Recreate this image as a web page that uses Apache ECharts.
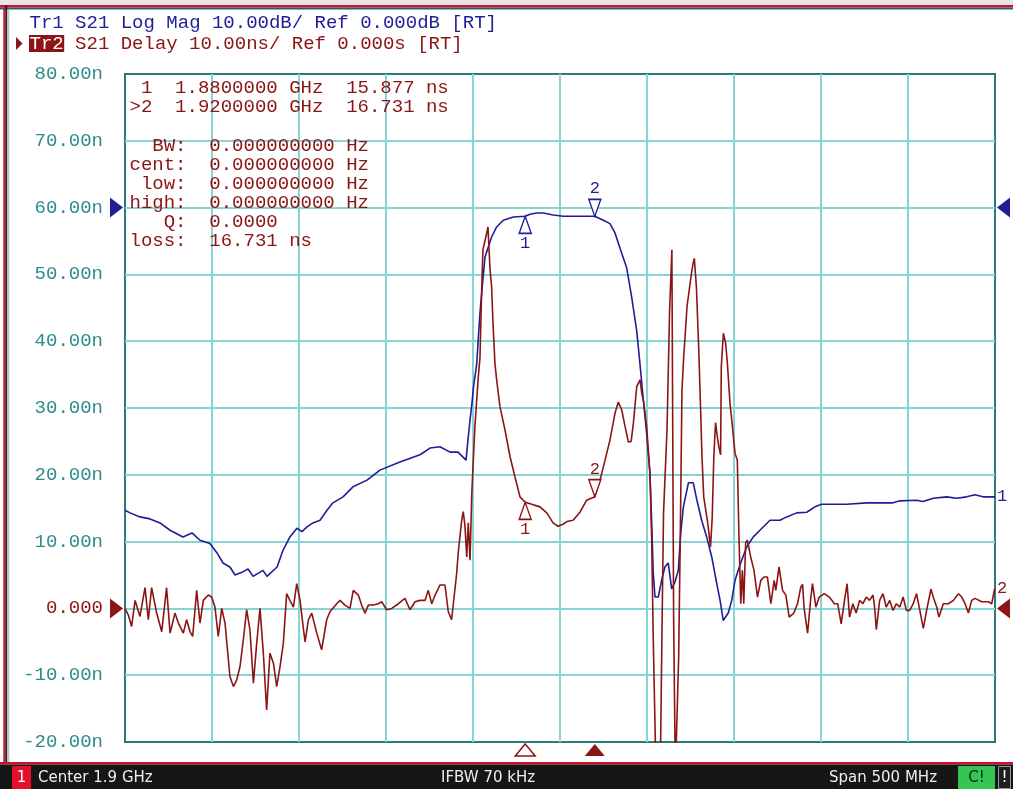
<!DOCTYPE html>
<html><head><meta charset="utf-8">
<style>html,body{margin:0;padding:0;background:#fff;}#c{width:1013px;height:789px;}</style>
<script src="https://cdn.jsdelivr.net/npm/echarts@6/dist/echarts.min.js"></script>
</head><body><div id="c"></div>
<script>
// ---- instrument state ----
const centerMHz = 1900;
const spanMHz = 500;
const ifbwText = '70 kHz';
const trace1Header = 'Tr1 S21 Log Mag 10.00dB/ Ref 0.000dB [RT]';
const trace2Name = 'Tr2';
const trace2Header = ' S21 Delay 10.00ns/ Ref 0.000s [RT]';
const yTickValues = [-20, -10, 0, 10, 20, 30, 40, 50, 60, 70, 80];
const yTickLabels = ['-20.00n','-10.00n','0.000','10.00n','20.00n','30.00n','40.00n','50.00n','60.00n','70.00n','80.00n'];
const markerFreqMHz = [1880, 1920];
const markerDelayNs = [15.877, 16.731];
const markerStats = [['  BW:','0.000000000 Hz'],['cent:','0.000000000 Hz'],[' low:','0.000000000 Hz'],['high:','0.000000000 Hz'],['   Q:','0.0000'],['loss:','16.731 ns']];

// ---- Tr2: S21 group delay (ns) ----
const delayFreqMHz = [
1650,1651.9,1653.8,1655.8,1658.6,1661.5,1663.4,1665.3,1668.2,1671.1,
1673.9,1675.9,1678.7,1680.7,1683.5,1685.4,1687.4,1688.9,1691.2,1693.1,
1695,1697.9,1699.8,1701.7,1703.6,1705.6,1707.5,1710.3,1712.3,1714.2,
1716.1,1718,1719.9,1721.8,1723.8,1725.7,1727.6,1729.5,1731.4,1733.3,
1735.3,1737.2,1739.1,1741,1742.9,1744.8,1746.8,1748.7,1750.6,1752.5,
1753.5,1755.4,1757.3,1760.2,1763,1765.9,1767.8,1771.7,1773.6,1776.4,
1779.3,1781.2,1784.1,1786,1787.9,1789.9,1792.7,1795.6,1797.5,1800.4,
1803.3,1807.1,1810.9,1813.8,1816.7,1819.5,1822.4,1824.3,1826.3,1828.2,
1831,1833.9,1835.8,1837.7,1838.7,1840.6,1841.5,1843.5,1844.4,1845.4,
1846.4,1847.3,1848.3,1849.3,1850,1851.1,1852.9,1854,1855,1855.7,
1857.9,1858.6,1859.8,1860.7,1861.5,1862.6,1863.6,1865.5,1868.4,1871.3,
1874.1,1877,1880,1884.7,1888.5,1892.4,1896,1898.9,1901.7,1904,
1907.5,1911.5,1915.3,1920,1923,1925.9,1928.7,1931.6,1933.5,1935.5,
1937.4,1939.3,1940.9,1942.2,1944.1,1946,1947,1947.9,1949.8,1951.7,
1952.7,1953.6,1955.2,1957.6,1958.6,1959.5,1961.5,1963,1964.3,1965.3,
1966.3,1968.2,1969.1,1970.1,1971.1,1972,1973,1974.3,1975.3,1976.5,
1977.2,1978.4,1979.7,1980.7,1981.6,1982.6,1984.9,1986.5,1987.5,1988.4,
1989.4,1990.4,1991.3,1992.3,1992.7,1993.9,1995.2,1996.2,1997.7,1999.1,
2000.6,2001.9,2002.9,2003.9,2004.8,2005.6,2006.7,2007.7,2009.6,2011.5,
2013.5,2015.4,2017.3,2019.2,2021.2,2023.1,2024,2025.9,2027.9,2029.8,
2031.7,2034.4,2036.5,2038.4,2039.4,2040.3,2042.3,2044.2,2045.1,2047.1,
2049,2051.9,2054.8,2057.7,2059.6,2061.6,2063.5,2065,2066.4,2068.3,
2070.2,2072.2,2074.1,2076,2077.9,2079.9,2080.8,2081.8,2083.7,2085.6,
2087.5,2089.5,2091.4,2093.3,2095.3,2097.2,2099.1,2101,2103,2104.9,
2106.8,2108.8,2110.7,2113.2,2114.5,2116.5,2117.8,2120.3,2123.2,2126.1,
2129,2130.9,2132.8,2134.7,2136.6,2138.5,2142.4,2146.2,2148.1,2149.6,
2150];
const delayNs = [
0.0,-1.0,-2.7,1.2,-1.2,3.1,-1.7,3.1,-0.7,-3.5,
3.1,-3.7,-0.7,-2.2,-3.7,-1.7,-3.5,-4.2,2.7,-2.2,
1.2,2.0,1.7,0.2,-4.2,0.0,-2.2,-10.2,-11.7,-10.7,
-8.7,-4.7,-0.2,-3.2,-11.2,-5.2,0.0,-6.7,-15.2,-6.7,
-8.2,-11.7,-8.7,-5.2,2.2,1.2,0.2,3.7,1.2,-3.0,
-5.0,-1.7,-0.7,-3.7,-6.2,-1.7,-0.5,0.7,1.2,0.5,
0.0,2.7,2.0,0.5,-0.7,0.5,0.5,0.7,1.0,-0.2,
0.0,0.7,1.5,-0.2,1.0,1.2,1.2,2.7,0.7,2.0,
3.5,3.5,-0.5,-1.7,0.7,5.2,8.3,13.2,14.5,12.3,
7.7,12.8,7.2,17.2,21.2,27.2,34.2,37.5,47.7,53.7,
56.2,57.1,50.7,48.1,42.7,36.7,34.2,30.2,26.7,22.7,
19.7,16.7,15.9,15.5,15.2,14.3,12.8,12.3,12.6,13.0,
13.2,14.4,16.2,16.7,19.2,22.2,25.2,29.2,30.9,29.7,
27.2,24.9,25.0,27.8,33.2,34.2,32.2,31.2,27.2,20.2,
10.2,-4.7,-25,-25,-3.7,14.3,26.7,44.7,53.7,-1.3,
-25,-7.3,10.2,32.7,37.7,41.2,45.2,47.7,49.7,51.7,
52.4,48.1,39.1,30.7,22.7,16.7,12.8,9.2,13.7,22.7,
27.8,25.7,24.2,23.0,36.2,41.2,39.7,36.7,30.7,27.2,
23.2,22.2,10.2,0.7,5.7,0.7,9.8,10.2,7.7,5.7,
1.7,4.2,4.7,4.7,0.7,4.2,2.7,6.2,2.7,2.0,
-1.3,-0.7,0.7,3.2,3.6,0.0,-3.7,1.7,3.7,0.2,
1.7,2.2,1.7,0.7,0.7,-2.3,1.2,3.7,-1.3,0.7,
-0.7,1.2,0.7,1.7,1.2,2.0,0.2,-3.2,1.2,2.2,
0.2,1.2,-0.3,0.7,0.2,1.7,-0.3,-0.3,0.7,2.2,
-0.3,-3.0,-0.3,2.9,1.7,0.2,-1.3,0.7,0.7,1.2,
2.2,1.7,0.7,-0.7,1.2,1.5,1.0,1.0,0.7,2.7,
3.0];

// ---- Tr1: S21 log magnitude (dB) ----
const magFreqMHz = [
1650,1652.9,1658.6,1664.4,1670.1,1675.9,1683.3,1688.5,1693.1,1698.8,
1702.9,1706.3,1710.3,1713.2,1717.2,1720.7,1723.6,1729.3,1731.6,1737.4,
1740.8,1744.8,1748.8,1751.7,1754.6,1758,1762.1,1766.1,1769.5,1775.3,
1781,1789.1,1796.5,1808,1819.5,1825.3,1831,1836.8,1841.4,1846,
1847.1,1848.3,1849.4,1850.3,1852.1,1853,1854,1855.3,1856.9,1858.8,
1860.7,1863.6,1867.4,1873.2,1880,1882.8,1886.6,1890.4,1896.1,1901.9,
1920,1924.9,1928.7,1931.6,1934.5,1938.3,1941.2,1944.1,1946,1947.9,
1949.8,1951.7,1952.7,1953.6,1954.6,1956.5,1958.4,1960.3,1962.2,1964.2,
1966.1,1968,1969.4,1970.9,1973.8,1976.6,1978.6,1981.4,1984.3,1987.2,
1990.1,1992,1993.8,1996.7,1998.7,2000.6,2003.4,2007.3,2011.1,2014.9,
2020.7,2026.4,2030.3,2036,2041.8,2046.5,2050.4,2064.8,2076.2,2091.4,
2095.4,2105,2108.6,2114.5,2122.2,2128,2133.7,2138.5,2143.1,2150];
const magDb = [
-45.3,-45.7,-46.3,-46.6,-47.2,-48.3,-49.3,-48.7,-49.8,-50.3,
-51.7,-53.2,-53.8,-55.0,-54.6,-54.1,-55.2,-54.3,-55.2,-53.8,
-51.3,-49.3,-48.0,-48.5,-47.8,-47.2,-46.8,-45.3,-44.2,-43.3,
-41.8,-40.8,-39.3,-38.1,-37.0,-36.0,-35.8,-36.6,-36.6,-37.8,
-34.8,-31.8,-29.3,-26.8,-23.5,-19.8,-15.8,-11.9,-7.4,-5.9,
-4.4,-2.9,-1.9,-1.4,-1.3,-1.0,-0.8,-0.8,-1.1,-1.3,
-1.3,-1.9,-2.4,-3.8,-6.1,-9.0,-13.4,-18.5,-23.5,-28.8,
-33.8,-39.8,-47.2,-54.8,-58.3,-58.3,-55.8,-53.8,-53.2,-57.1,
-56.0,-54.3,-48.7,-44.8,-41.2,-41.2,-43.7,-46.8,-49.3,-52.3,
-56.3,-58.8,-61.8,-60.7,-58.8,-55.8,-53.5,-50.8,-49.3,-48.3,
-46.8,-46.8,-46.3,-45.7,-45.6,-44.8,-44.4,-44.4,-44.2,-44.2,
-43.9,-43.8,-44.0,-43.5,-43.3,-43.5,-43.3,-43.0,-43.3,-43.3];

// ---- styling ----
const MONO = '"Liberation Mono","DejaVu Sans Mono",monospace';
const SANS = '"DejaVu Sans","Liberation Sans",sans-serif';
const BLUE = '#1e1e96', RED = '#8c1414', TEAL = '#2f8c8c', GRIDC = '#86d4d4', BORDER = '#2c7b7b';

const chart = echarts.init(document.getElementById('c'), null, {renderer: 'canvas'});
const fmin = centerMHz - spanMHz / 2, fmax = centerMHz + spanMHz / 2;

function markerPoints(values, color) {
  return {
    symbolKeepAspect: false,
    animation: false,
    silent: true,
    data: markerFreqMHz.map((f, i) => ({
      coord: [f, values[i]],
      symbol: i === 0 ? 'path://M6,0L12,17L0,17Z' : 'path://M0,0L12,0L6,17Z',
      symbolSize: [12, 17],
      symbolOffset: [0, i === 0 ? 8.5 : -8.5],
      itemStyle: {color: '#ffffff', borderColor: color, borderWidth: 1.5},
      label: {show: true, formatter: String(i + 1), position: i === 0 ? 'bottom' : 'top', distance: 1,
              color: color, fontFamily: MONO, fontSize: 17}
    }))
  };
}
const magAtMarkers = markerFreqMHz.map(f => magDb[magFreqMHz.indexOf(f)]);

const option = {
  animation: false,
  backgroundColor: '#ffffff',
  grid: {left: 125, top: 74, width: 870, height: 668, show: true, borderColor: BORDER, borderWidth: 2, backgroundColor: 'rgba(0,0,0,0)'},
  xAxis: {type: 'value', min: fmin, max: fmax, interval: 50,
    axisLine: {show: false}, axisTick: {show: false}, axisLabel: {show: false},
    splitLine: {show: true, showMinLine: false, showMaxLine: false, lineStyle: {color: GRIDC, width: 2}}},
  yAxis: [
    {type: 'value', min: -20, max: 80, interval: 10,
     axisLine: {show: false}, axisTick: {show: false},
     splitLine: {show: true, showMinLine: false, showMaxLine: false, lineStyle: {color: GRIDC, width: 2}},
     axisLabel: {margin: 22, fontFamily: MONO, fontSize: 19, color: TEAL,
       formatter: v => { const t = yTickLabels[yTickValues.indexOf(v)]; return v === 0 ? '{z|' + t + '}' : t; },
       rich: {z: {color: RED, fontFamily: MONO, fontSize: 19}}}},
    {type: 'value', min: -80, max: 20, show: false, splitLine: {show: false}}
  ],
  series: [
    {name: 'Tr1', type: 'line', yAxisIndex: 1, z: 3,
     data: magFreqMHz.map((f, i) => [f, magDb[i]]),
     showSymbol: false, lineStyle: {color: BLUE, width: 1.6}, itemStyle: {color: BLUE},
     endLabel: {show: true, formatter: '1', color: BLUE, fontFamily: MONO, fontSize: 17, distance: 2},
     markPoint: markerPoints(magAtMarkers, BLUE)},
    {name: 'Tr2', type: 'line', yAxisIndex: 0, z: 4,
     data: delayFreqMHz.map((f, i) => [f, delayNs[i]]),
     showSymbol: false, lineStyle: {color: RED, width: 1.6}, itemStyle: {color: RED},
     endLabel: {show: true, formatter: '2', color: RED, fontFamily: MONO, fontSize: 17, distance: 2},
     markPoint: markerPoints(markerDelayNs, RED)}
  ]
};
chart.setOption(option);

// ---- decorations placed through the chart's own scales ----
function txt(text, x, y, fill, font, align) {
  return {type: 'text', silent: true, z: 20, style: {text: text, x: x, y: y, fill: fill, font: font,
    align: align || 'left', textAlign: align || 'left', verticalAlign: 'middle', textVerticalAlign: 'middle'}};
}
function poly(points, fill, stroke) {
  return {type: 'polygon', silent: true, z: 20, shape: {points: points},
    style: {fill: fill, stroke: stroke || null, lineWidth: stroke ? 1.5 : 0}};
}
function rect(x, y, w, h, fill, stroke) {
  return {type: 'rect', silent: true, z: 15, shape: {x: x, y: y, width: w, height: h},
    style: {fill: fill, stroke: stroke || null, lineWidth: stroke ? 1 : 0}};
}
const g = [];
const F19 = '19px ' + MONO;
// window frame
g.push(rect(0, 0, 1013, 5, '#e6e6e6'));
g.push(rect(0, 5, 1013, 2.5, '#d4102c'));
g.push(rect(0, 7.5, 1013, 2, '#1f6565'));
g.push(rect(3.3, 5, 2, 758, '#d4102c'));
g.push(rect(5.3, 5, 2, 758, '#262626'));
g.push(rect(7.3, 9.5, 2, 753, '#b8c4c4'));
// trace headers
const cw = 11.4, hx = 29.5;
g.push(txt(trace1Header, hx, 22.5, BLUE, F19));
g.push(poly([[16, 37], [22.5, 43.5], [16, 50]], RED));
g.push(rect(hx - 0.5, 35, 3 * cw + 1, 17, RED));
g.push(txt(trace2Name, hx, 43.5, '#ffffff', F19));
g.push(txt(trace2Header, hx + 3 * cw, 43.5, RED, F19));
// marker readout
const mx = 129.5;
markerFreqMHz.forEach((f, i) => {
  const pre = (i === 1 ? '>' : ' ') + (i + 1) + '  ';
  const line = pre + (f / 1000).toFixed(7) + ' GHz  ' + markerDelayNs[i].toFixed(3) + ' ns';
  g.push(txt(line, mx, 88 + i * 18.5, RED, F19));
});
markerStats.forEach((s, i) => {
  g.push(txt(s[0] + '  ' + s[1], mx, 146 + i * 18.9, RED, F19));
});
// reference-position arrows
const pBlue = chart.convertToPixel({xAxisIndex: 0, yAxisIndex: 1}, [fmin, 0]);
const pRed = chart.convertToPixel({xAxisIndex: 0, yAxisIndex: 0}, [fmin, 0]);
[[pBlue[1], BLUE], [pRed[1], RED]].forEach(([y, c]) => {
  g.push(poly([[110, y - 10], [123, y], [110, y + 10]], c));
  g.push(poly([[1010, y - 10], [997, y], [1010, y + 10]], c));
});
// stimulus marker arrows under the grid
markerFreqMHz.forEach((f, i) => {
  const x = chart.convertToPixel({xAxisIndex: 0, yAxisIndex: 0}, [f, -20])[0];
  const pts = [[x, 744], [x + 10, 756], [x - 10, 756]];
  g.push(i === 1 ? poly(pts, RED) : poly(pts, '#ffffff', RED));
});
// status bar
const SF = '15px ' + SANS;
g.push(rect(0, 762, 1013, 2.5, '#d0102a'));
g.push(rect(0, 764.5, 1013, 24.5, '#161616'));
g.push(rect(12, 766, 19, 23, '#e3102c'));
g.push(txt('1', 21.5, 778, '#ffffff', SF, 'center'));
g.push(txt('Center ' + (centerMHz / 1000) + ' GHz', 38, 778, '#eeeeee', SF));
g.push(txt('IFBW ' + ifbwText, 441, 778, '#eeeeee', SF));
g.push(txt('Span ' + spanMHz + ' MHz', 829, 778, '#eeeeee', SF));
g.push(rect(958, 766, 37, 23, '#34c552'));
g.push(txt('C!', 976.5, 778, '#0d2a12', SF, 'center'));
g.push(rect(998.5, 766.5, 12, 22, '#1e1e1e', '#9a9a9a'));
g.push(txt('!', 1004.5, 778, '#ffffff', SF, 'center'));

chart.setOption({graphic: {elements: g}});
</script></body></html>
